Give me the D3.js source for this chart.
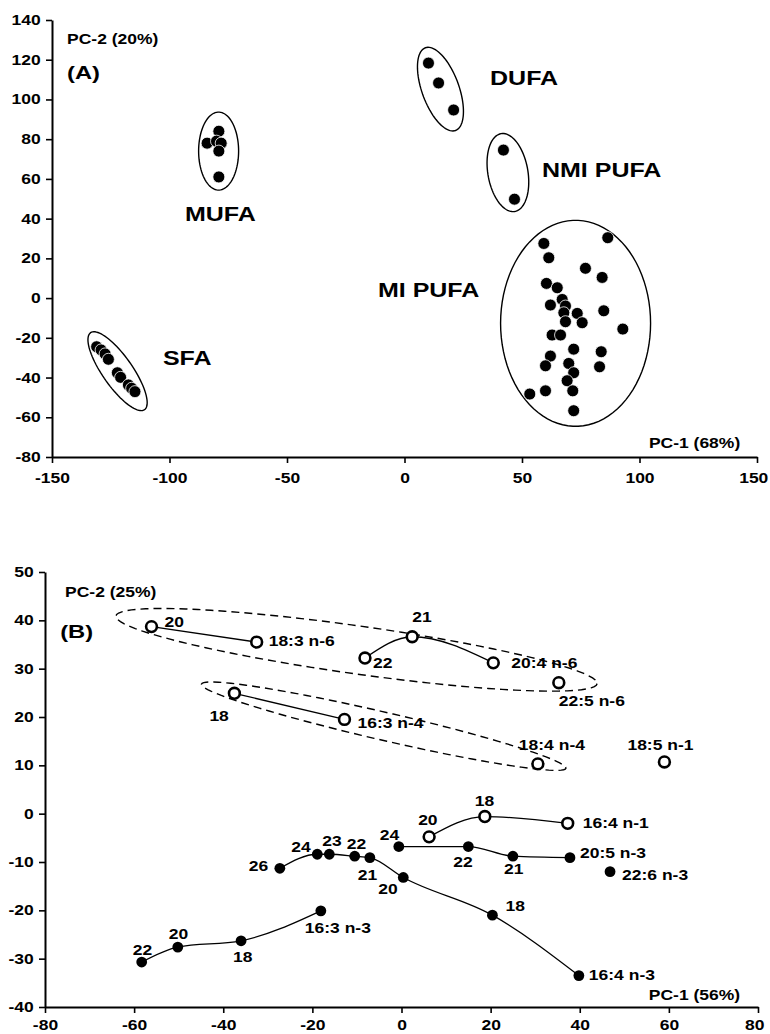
<!DOCTYPE html>
<html>
<head>
<meta charset="utf-8">
<script src="https://cdn.jsdelivr.net/npm/d3@7"></script>
<style>
body { margin: 0; background: #fff; }
svg text { font-family: "Liberation Sans", Arial, sans-serif; font-weight: bold; fill: #000; }
</style>
</head>
<body>
<div id="chart"></div>
<script>
// ---------- Panel A data: PC-1 / PC-2 scores per fatty acid class
var sfaPoints = [[-131.0, -24.5], [-129.1, -26.1], [-127.4, -28.1], [-126.0, -30.8], [-122.2, -37.6],
    [-120.8, -39.9], [-117.5, -43.7], [-116.1, -45.4], [-114.7, -47.1]];
var mufaPoints = [[-79, 84], [-84, 78], [-80, 79], [-78, 78], [-79, 74], [-79, 61]];
var dufaPoints = [[10.2, 118.3], [14.5, 108.3], [20.9, 94.7]];
var nmiPufaPoints = [[42.1, 74.5], [46.8, 49.8]];
var miPufaPoints = [[86.5, 30.4], [59.3, 27.5], [61.4, 20.3], [77.0, 15.0], [84.1, 10.4], [60.4, 7.4],
    [65.0, 5.2], [67.1, -0.7], [62.1, -3.5], [68.5, -4.0], [67.8, -7.4], [73.5, -7.7], [84.8, -6.4],
    [68.5, -11.9], [75.6, -12.4], [92.9, -15.6], [62.8, -18.6], [66.4, -18.6], [72.0, -25.7],
    [83.7, -27.0], [62.1, -29.2], [60.0, -34.1], [69.9, -32.9], [83.0, -34.6], [72.0, -37.6],
    [69.2, -41.6], [53.3, -48.3], [60.0, -46.7], [71.6, -46.7], [72.0, -56.7]];
var classNames = ["SFA", "MUFA", "DUFA", "NMI PUFA", "MI PUFA"];
var xTicksA = [-150, -100, -50, 0, 50, 100, 150];
var yTicksA = [-80, -60, -40, -20, 0, 20, 40, 60, 80, 100, 120, 140];

// ---------- Panel B data: chain-length series (labels = carbon number)
var n6_183 = [[-56.1, 38.7], [-32.5, 35.5]];
var n6_183Labels = ["20", "18:3 n-6"];
var n6_204 = [[-8.2, 32.2], [2.4, 36.6], [20.6, 31.2]];
var n6_204Labels = ["22", "21", "20:4 n-6"];
var n6_225 = [[35.3, 27.1]];
var n6_225Labels = ["22:5 n-6"];
var n4_163 = [[-37.5, 24.9], [-12.8, 19.5]];
var n4_163Labels = ["18", "16:3 n-4"];
var n4_184 = [[30.6, 10.3]];
var n4_184Labels = ["18:4 n-4"];
var n1_185 = [[59.0, 10.7]];
var n1_185Labels = ["18:5 n-1"];
var n1_164 = [[6.2, -4.8], [18.7, -0.6], [37.3, -2.0]];
var n1_164Labels = ["20", "18", "16:4 n-1"];
var n3_205 = [[-0.6, -6.8], [15.0, -6.8], [25.0, -8.8], [37.8, -9.1]];
var n3_205Labels = ["24", "22", "21", "20:5 n-3"];
var n3_226 = [[46.8, -12.0]];
var n3_226Labels = ["22:6 n-3"];
var n3_164 = [[-27.3, -11.3], [-18.9, -8.4], [-16.2, -8.4], [-10.5, -8.8], [-7.1, -9.1],
    [0.4, -13.2], [20.4, -21.0], [39.8, -33.5]];
var n3_164Labels = ["26", "24", "23", "22", "21", "20", "18", "16:4 n-3"];
var n3_163 = [[-58.3, -30.7], [-50.2, -27.6], [-36.0, -26.3], [-18.1, -20.1]];
var n3_163Labels = ["22", "20", "18", "16:3 n-3"];
var xTicksB = [-80, -60, -40, -20, 0, 20, 40, 60, 80];
var yTicksB = [-40, -30, -20, -10, 0, 10, 20, 30, 40, 50];

// the source figure is stretched sideways, so text gets stretched too
var SX = 1.25;

var svgWidth = 770;
var svgHeight = 1034;

var svg = d3.select("#chart")
 .append("svg")
 .attr("width", svgWidth)
 .attr("height", svgHeight);

function stretchText(x, y, str, size) {
    return svg.append("text")
     .attr("transform", `translate(${x}, ${y}) scale(${SX}, 1)`)
     .attr("font-size", size)
     .text(str);
}

function drawAxes(xScale, yScale, xTicks, yTicks) {
    var xAxis = svg.append("g")
     .attr("transform", `translate(0, ${yScale.range()[0]})`)
     .call(d3.axisBottom(xScale).tickValues(xTicks).tickFormat(d => String(d))
        .tickSize(6).tickSizeOuter(0).tickPadding(7));
    var yAxis = svg.append("g")
     .attr("transform", `translate(${xScale.range()[0]}, 0)`)
     .call(d3.axisLeft(yScale).tickValues(yTicks).tickFormat(d => String(d))
        .tickSize(6).tickSizeOuter(0).tickPadding(3));

    [xAxis, yAxis].forEach(function(ax) {
        ax.attr("font-family", null).attr("font-size", null);
        ax.select(".domain").attr("stroke-width", 2);
        ax.selectAll(".tick line").attr("stroke-width", 1.6);
        ax.selectAll(".tick text")
         .attr("font-size", 14)
         .attr("transform", `scale(${SX}, 1)`);
    });

    // keep the last x label inside the page
    xAxis.selectAll(".tick text")
     .filter(d => d === xTicks[xTicks.length - 1])
     .attr("dx", -3);
    return xAxis;
}

// ellipse path in pixel space around a data centre
function ellipsePath(cx, cy, rx, ry, rot) {
    var a = rot * Math.PI / 180;
    var pts = d3.range(0, 361, 4).map(function(t) {
        var u = t * Math.PI / 180;
        var ex = rx * Math.cos(u), ey = ry * Math.sin(u);
        return [cx + ex * Math.cos(a) - ey * Math.sin(a), cy + ex * Math.sin(a) + ey * Math.cos(a)];
    });
    return d3.line()(pts) + "Z";
}

// ================= Panel A =================
var xA = d3.scaleLinear().domain([-150, 150]).range([52, 757]);
var yA = d3.scaleLinear().domain([-80, 140]).range([457, 20]);
var xAxisA = drawAxes(xA, yA, xTicksA, yTicksA);
xAxisA.selectAll(".tick text").attr("y", 16);

var groupsA = [sfaPoints, mufaPoints, dufaPoints, nmiPufaPoints, miPufaPoints];

// cluster outlines: centre in data units, radii in px, rotation in degrees
var outlineCentres = [[-122.1, -36.8], [-79.1, 74.0], [15.3, 105.2], [44.0, 63.2], [72.8, -12.7]];
var outlineShapes = [[47, 15, 55], [20, 39, 0], [44, 18.5, 70], [39.5, 20, 80], [75, 103, 0]];

outlineCentres.forEach(function(c, i) {
    var s = outlineShapes[i];
    svg.append("path")
     .attr("d", ellipsePath(xA(c[0]), yA(c[1]), s[0], s[1], s[2]))
     .attr("fill", "none")
     .attr("stroke", "#000")
     .attr("stroke-width", 1.4);
});

groupsA.forEach(function(pts) {
    svg.append("g")
     .selectAll("circle")
     .data(pts)
     .enter()
     .append("circle")
     .attr("cx", d => xA(d[0]))
     .attr("cy", d => yA(d[1]))
     .attr("r", 6)
     .attr("fill", "#000")
     .attr("stroke", "#fff")
     .attr("stroke-width", 0.8);
});

var classLabelPos = [[-102.8, -33.7], [-93.4, 38.8], [36.4, 107.3], [58.5, 61.0], [-11.3, 0.6]];
classNames.forEach(function(name, i) {
    stretchText(xA(classLabelPos[i][0]), yA(classLabelPos[i][1]), name, 20);
});

stretchText(xA(-143.6), yA(127.9), "PC-2 (20%)", 14);
stretchText(xA(-143.6), yA(110.3), "(A)", 19);
stretchText(xA(104.0), yA(-75.5), "PC-1 (68%)", 14);

// ================= Panel B =================
var xB = d3.scaleLinear().domain([-80, 80]).range([45, 758]);
var yB = d3.scaleLinear().domain([-40, 50]).range([1007, 572]);
drawAxes(xB, yB, xTicksB, yTicksB);

// dashed group outlines
var dashCentres = [[-10.1, 33.9], [-4.0, 18.1]];
var dashShapes = [[243, 24, 8], [187, 14, 13]];
dashCentres.forEach(function(c, i) {
    var s = dashShapes[i];
    svg.append("path")
     .attr("d", ellipsePath(xB(c[0]), yB(c[1]), s[0], s[1], s[2]))
     .attr("fill", "none")
     .attr("stroke", "#000")
     .attr("stroke-width", 1.4)
     .attr("stroke-dasharray", "8,5");
});

var seriesB = [
    [n6_183, n6_183Labels, true], [n6_204, n6_204Labels, true], [n6_225, n6_225Labels, true],
    [n4_163, n4_163Labels, true], [n4_184, n4_184Labels, true], [n1_185, n1_185Labels, true],
    [n1_164, n1_164Labels, true], [n3_205, n3_205Labels, false], [n3_226, n3_226Labels, false],
    [n3_164, n3_164Labels, false], [n3_163, n3_163Labels, false]
];

// label offsets (px from the marker to text start / baseline)
var labelOffsets = [
    [[13, 0], [12, 4]],
    [[8, 10], [0, -15], [18, 5]],
    [[0, 23]],
    [[-25, 28], [13, 9]],
    [[-19, -14]],
    [[-37, -12]],
    [[-11, -12], [-10, -11], [15, 5]],
    [[-19, -7], [-15, 20], [-9, 18], [10, 0]],
    [[12, 8]],
    [[-31, 3], [-26, -2], [-7, -8], [-8, -7], [-12, 22], [-25, 17], [13, -4], [10, 4]],
    [[-9, -7], [-9, -8], [-8, 21], [-16, 22]]
];

var lineB = d3.line()
 .x(d => xB(d[0]))
 .y(d => yB(d[1]))
 .curve(d3.curveMonotoneX);

seriesB.forEach(function(s) {
    if (s[0].length > 1) {
        svg.append("path")
         .attr("d", lineB(s[0]))
         .attr("fill", "none")
         .attr("stroke", "#000")
         .attr("stroke-width", 1.3);
    }
});

seriesB.forEach(function(s, i) {
    var open = s[2];
    svg.append("g")
     .selectAll("circle")
     .data(s[0])
     .enter()
     .append("circle")
     .attr("cx", d => xB(d[0]))
     .attr("cy", d => yB(d[1]))
     .attr("r", 5.4)
     .attr("fill", open ? "#fff" : "#000")
     .attr("stroke", "#000")
     .attr("stroke-width", open ? 2.6 : 0);

    s[0].forEach(function(d, j) {
        var off = labelOffsets[i][j];
        stretchText(xB(d[0]) + off[0], yB(d[1]) + off[1], s[1][j], 14);
    });
});

stretchText(xB(-75.5), yB(44.8), "PC-2 (25%)", 14);
stretchText(xB(-76.6), yB(36.4), "(B)", 19);
stretchText(xB(55.5), yB(-38.5), "PC-1 (56%)", 14);
</script>
</body>
</html>
